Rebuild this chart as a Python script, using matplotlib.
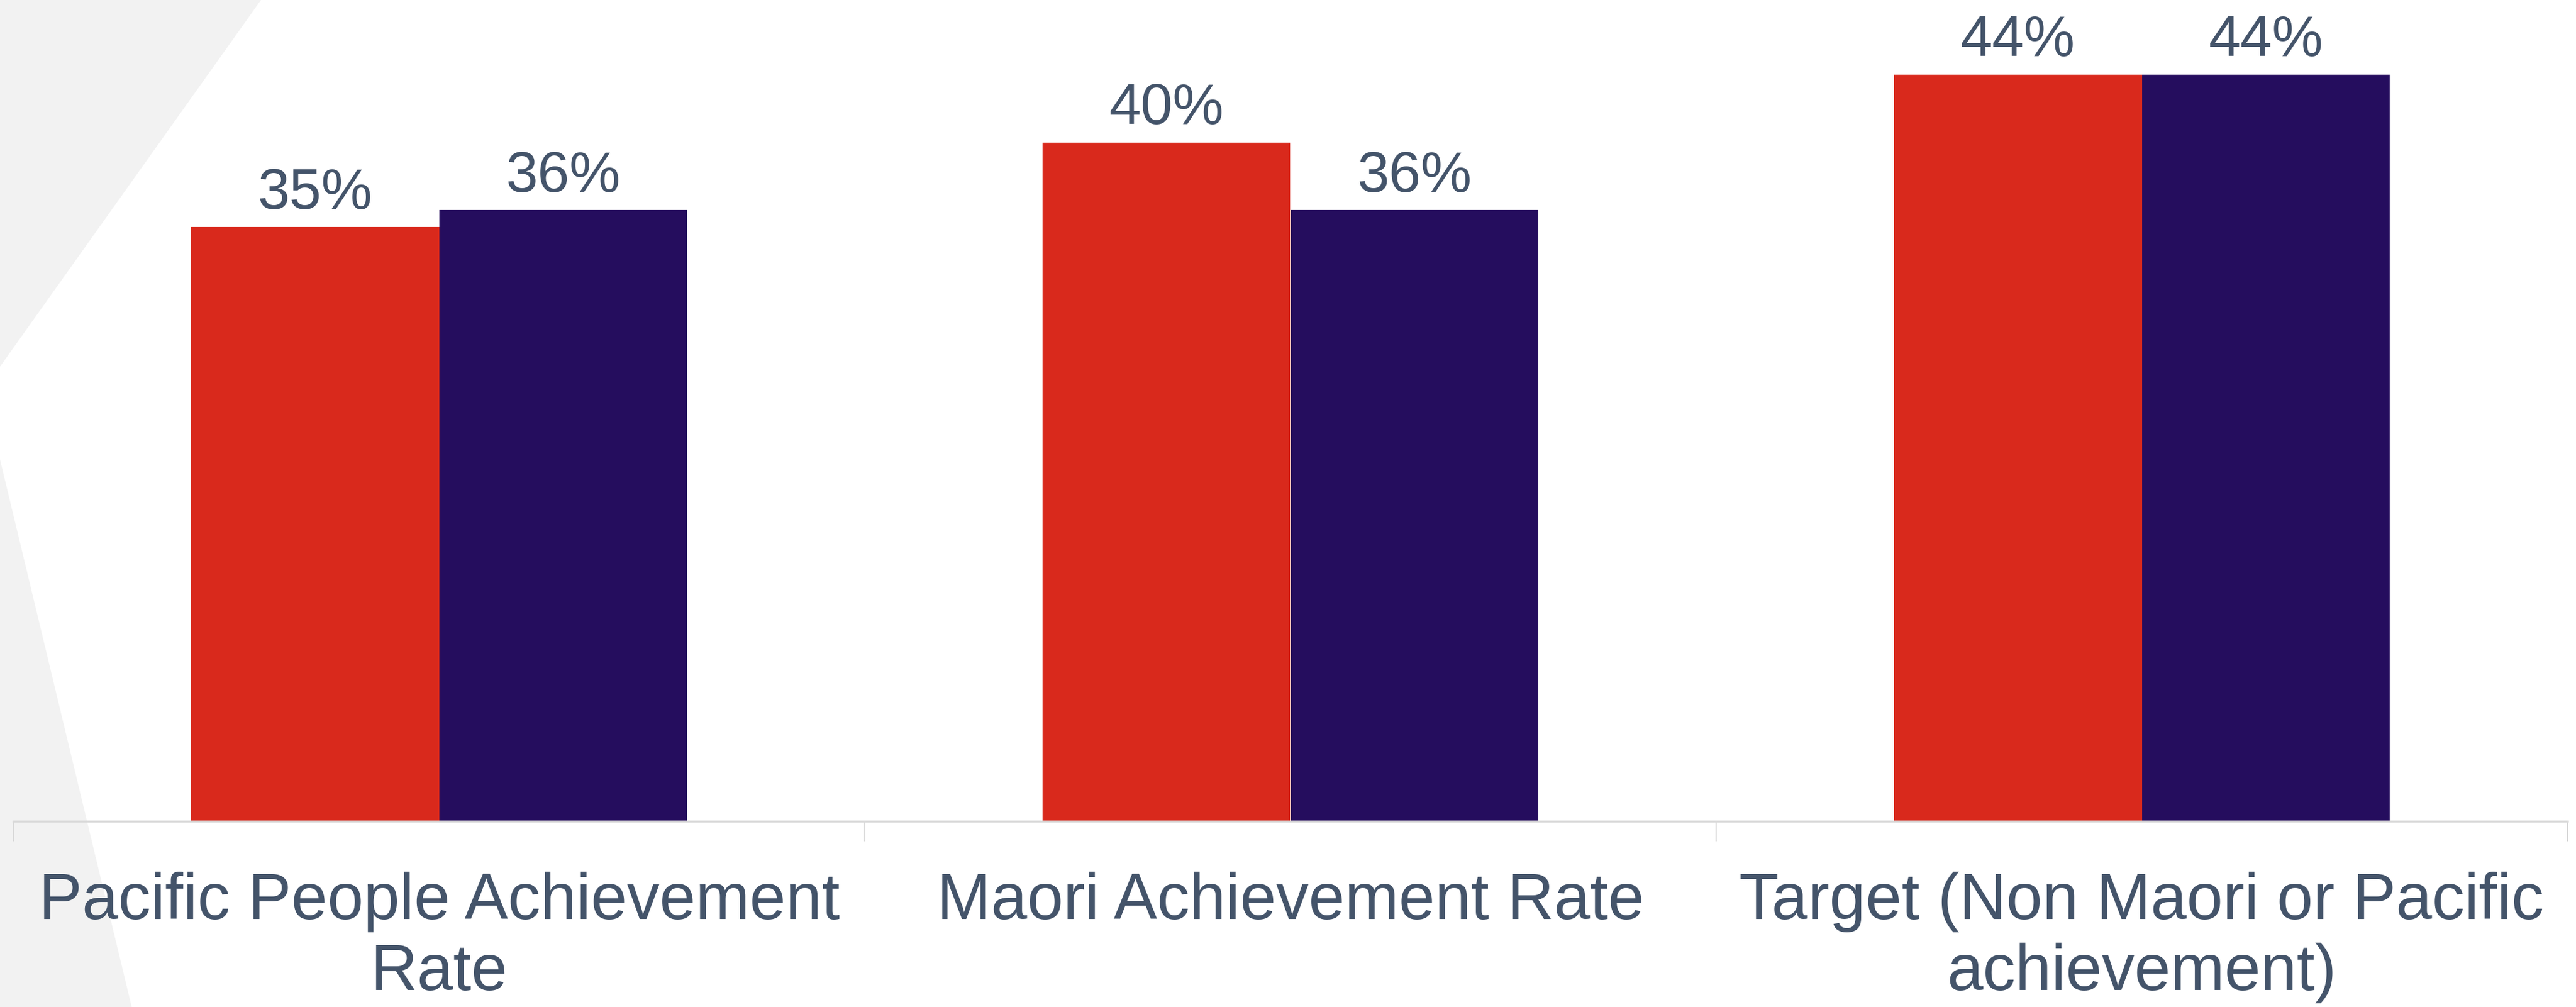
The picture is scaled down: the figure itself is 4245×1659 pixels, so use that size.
import matplotlib
matplotlib.use("Agg")
import matplotlib.pyplot as plt
from matplotlib.patches import Polygon
import numpy as np

categories = ["Pacific People Achievement\nRate", "Maori Achievement Rate",
              "Target (Non Maori or Pacific\nachievement)"]
series_a = [35, 40, 44]
series_b = [36, 36, 44]
label_a = ["35%", "40%", "44%"]
label_b = ["36%", "36%", "44%"]

RED = "#D9291C"
PURPLE = "#250D5E"
TEXT = "#44546A"
GRID = "#D9D9D9"

plt.rcParams["font.family"] = ["Liberation Sans", "DejaVu Sans"]

W, H = 4245, 1659
fig = plt.figure(figsize=(W / 100, H / 100), dpi=100)
fig.patch.set_facecolor("white")

# decorative gray background shapes (figure pixel coords -> fraction)
def fpoly(pts):
    return Polygon([(x / W, 1 - y / H) for x, y in pts], closed=True,
                   transform=fig.transFigure, facecolor="#F2F2F2",
                   edgecolor="none", zorder=-5)

fig.patches.append(fpoly([(0, 0), (430, 0), (0, 604)]))
fig.patches.append(fpoly([(0, 757), (217, 1659), (0, 1659)]))

ax = fig.add_axes([22 / W, (H - 1353) / H, (4231 - 22) / W, 1353 / H])
ax.set_zorder(5)
ax.patch.set_alpha(0)

x = np.arange(len(categories))
bw = 0.2915
ba = ax.bar(x - bw / 2, series_a, width=bw, color=RED, zorder=2)
bb = ax.bar(x + bw / 2, series_b, width=bw, color=PURPLE, zorder=2)

for bars, labels in ((ba, label_a), (bb, label_b)):
    for rect, lab in zip(bars, labels):
        ax.annotate(lab, (rect.get_x() + rect.get_width() / 2, rect.get_height()),
                    xytext=(0, 22), textcoords="offset points",
                    ha="center", va="baseline", fontsize=68, color=TEXT)

ax.set_xlim(-0.5, 2.5)
ax.set_ylim(0, 1353 / 27.96)

for s in ("top", "right", "left"):
    ax.spines[s].set_visible(False)
ax.spines["bottom"].set_color(GRID)
ax.spines["bottom"].set_linewidth(2.5)
ax.set_yticks([])

ax.set_xticks([-0.5, 0.5, 1.5, 2.5])
ax.set_xticklabels([])
ax.tick_params(axis="x", which="major", direction="out", length=24,
               width=1.5, color=GRID)
ax.set_xticks(x, minor=True)
ax.set_xticklabels(categories, minor=True, fontsize=77, color=TEXT,
                   linespacing=1.21)
ax.tick_params(axis="x", which="minor", length=0, pad=60)

fig.savefig("out.png", dpi=100)
